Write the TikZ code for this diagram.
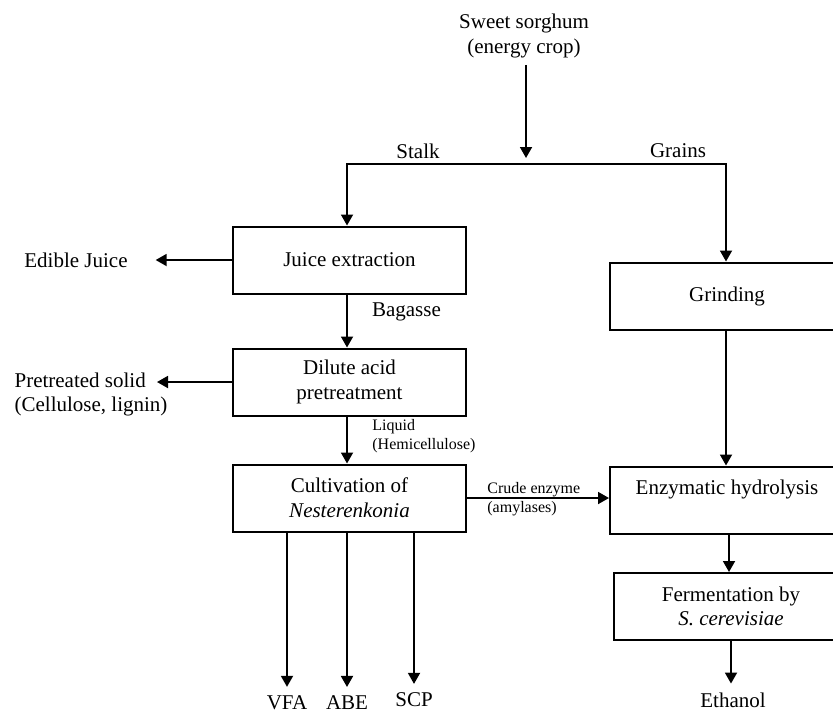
\documentclass[tikz,border=0pt]{standalone}
\usepackage{fontspec}
\setmainfont{Liberation Serif}
\usepackage{tikz}
\usetikzlibrary{positioning, arrows.meta, calc}

\tikzset{
    procbox/.style={draw, rectangle, line width=1pt, minimum width=116.5pt, minimum height=33.5pt, align=center, inner sep=2pt},
    sidebox/.style={procbox, minimum width=117pt},
    flowlabel/.style={font=\fontsize{8}{9.5}\selectfont, align=left, inner sep=0pt},
    flowarrow/.style={-{Triangle[length=5.5pt, width=6pt]}, line width=0.9pt},
    flowsplit/.style={{Triangle[length=5.5pt, width=6pt]}-{Triangle[length=5.5pt, width=6pt]}, line width=0.9pt}
}

\begin{document}
\begin{tikzpicture}[x=0.5pt, y=-0.5pt, every node/.style={font=\fontsize{10.5}{12.3}\selectfont}]
    \useasboundingbox (0,0) rectangle (833,712);
    \clip (0,0) rectangle (833,712);

    \node [align=center] (sorghum) at (524,36) {Sweet sorghum\\(energy crop)};
    \coordinate (split) at (526,164);
    \coordinate (stalkturn) at (347,164);
    \coordinate (grainturn) at (726,164);
    \node (stalk) at (418,151) {Stalk};
    \node (grains) at (678,151) {Grains};

    \node [procbox] (juice) at (349.5,260) {Juice extraction};
    \node [procbox] (dilute) at (349.5,382) {Dilute acid\\pretreatment};
    \node [procbox] (cultiv) at (349.5,498) {Cultivation of\\\textit{Nesterenkonia}};
    \node [sidebox] (grind) at (727,296) {Grinding};
    \node [sidebox] (enzhyd) at (727,500) {Enzymatic hydrolysis\\\mbox{}};
    \node [sidebox] (ferm) at (731,606.5) {Fermentation by\\\textit{S. cerevisiae}};

    \node (juiceout) at (76,260) {Edible Juice};
    \node [align=left] (solidout) at (91,394.5) {Pretreated solid\\(Cellulose, lignin)};
    \coordinate (solidtip) at (157,382);
    \node [anchor=west] (bagasse) at (365,312) {Bagasse};
    \node [flowlabel, anchor=west] (liquid) at (372,436.5) {Liquid\\(Hemicellulose)};
    \node [flowlabel, anchor=west] (crude) at (487,499) {Crude enzyme\\(amylases)};

    \node (vfa) at (287,703) {VFA};
    \node (abe) at (347,703) {ABE};
    \node (scp) at (414,700) {SCP};
    \node (ethanol) at (733,700) {Ethanol};

    \draw [flowarrow, shorten >=3pt] (sorghum.south -| split) -- (split);
    \draw [flowsplit] (juice.north -| stalkturn) -- (stalkturn) -- (grainturn) -- (grind.north -| grainturn);
    \draw [flowarrow, shorten >=10.5pt] (juice.west) -- (juice.west -| juiceout.east);
    \draw [flowarrow] (juice.south -| stalkturn) -- (dilute.north -| stalkturn);
    \draw [flowarrow] (dilute.west) -- (dilute.west -| solidtip);
    \draw [flowarrow] (dilute.south -| stalkturn) -- (cultiv.north -| stalkturn);
    \draw [flowarrow] (cultiv.east) -- (cultiv.east -| enzhyd.west);
    \draw [flowarrow] (grind.south -| grainturn) -- (enzhyd.north -| grainturn);
    \draw [flowarrow] (enzhyd.south -| 729,0) -- (ferm.north -| 729,0);
    \draw [flowarrow, shorten >=1pt] (ferm.south) -- (ferm.south |- ethanol.north);
    \foreach \prod in {vfa, abe, scp}
        \draw [flowarrow, shorten >=1pt] (cultiv.south -| \prod) -- (\prod.north);
\end{tikzpicture}
\end{document}
